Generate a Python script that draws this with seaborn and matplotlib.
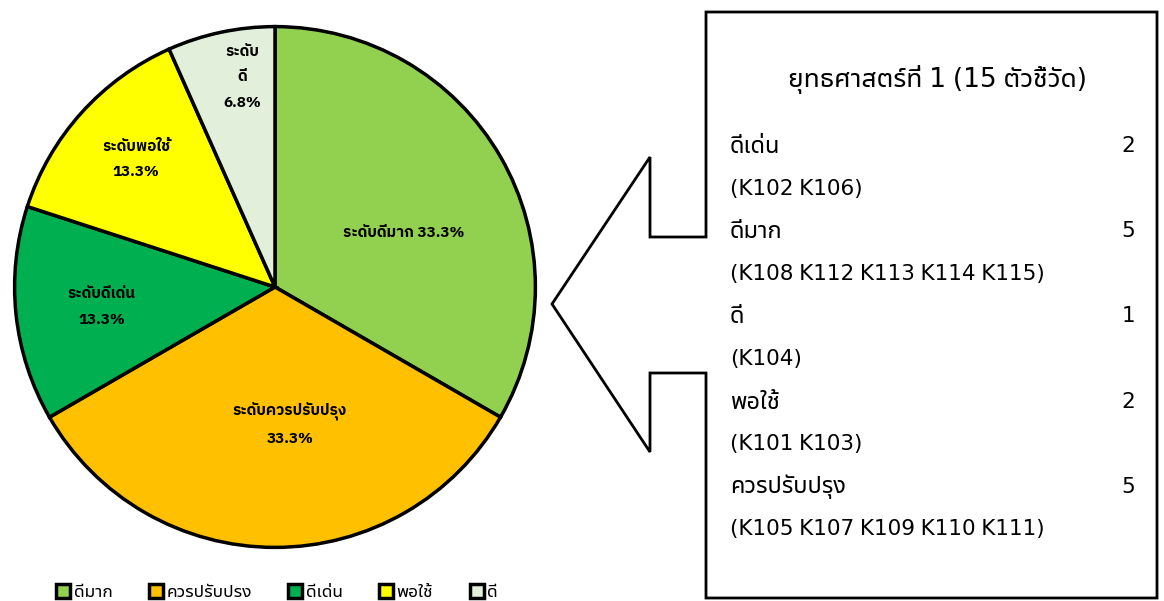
import matplotlib
matplotlib.use("Agg")
import matplotlib.pyplot as plt
from matplotlib import font_manager
from matplotlib.patches import Polygon
from matplotlib.lines import Line2D
import seaborn as sns

# ---- data ----
categories = ["ดีมาก", "ควรปรับปรง", "ดีเด่น", "พอใช้", "ดี"]
values = [5, 5, 2, 2, 1]
slice_labels = ["ระดับดีมาก 33.3%", "ระดับควรปรับปรุง\n33.3%", "ระดับดีเด่น\n13.3%",
                "ระดับพอใช้\n13.3%", "ระดับ\nดี\n6.8%"]
colors = ["#92D050", "#FFC000", "#00B050", "#FFFF00", "#E2EFDA"]

title_text = "ยุทธศาสตร์ที่ 1 (15 ตัวชี้วัด)"
box_levels = ["ดีเด่น", "ดีมาก", "ดี", "พอใช้", "ควรปรับปรุง"]
box_counts = [2, 5, 1, 2, 5]
box_codes = ["(K102 K106)", "(K108 K112 K113 K114 K115)", "(K104)", "(K101 K103)",
             "(K105 K107 K109 K110 K111)"]

sns.set_theme(style="white")

# pick a Thai family that has a bold face for the pie labels
bold_names = {f.name for f in font_manager.fontManager.ttflist
              if (f.weight if isinstance(f.weight, int) else 400) >= 600
              or str(f.weight) in ("bold", "semibold", "demibold", "heavy", "extra bold", "black")}
bold_family = "Noto Sans Thai UI"
for cand in ["Noto Sans Thai UI", "Noto Sans Thai", "IBM Plex Sans Thai", "Anuphan", "Sarabun", "Loma"]:
    if cand in bold_names:
        bold_family = cand
        break

plt.rcParams['font.family'] = ['Noto Sans Thai UI', 'DejaVu Sans']
plt.rcParams['text.color'] = 'black'

W, H = 1164, 601
fig = plt.figure(figsize=(W / 100, H / 100), dpi=100)


def fx(px):
    return px / W


def fy(py):
    return 1 - py / H


cx, cy, r = 275, 287, 263
ax = fig.add_axes([fx(cx - r), fy(cy + r), 2 * r / W, 2 * r / H])
wedges, _ = ax.pie(values, colors=colors, startangle=90, counterclock=False,
                   wedgeprops=dict(edgecolor="black", linewidth=2.5), radius=1)
ax.set_xlim(-1.01, 1.01)
ax.set_ylim(-1.01, 1.01)
ax.set_aspect("equal")

label_px = [(405, 232), (290, 425), (100, 307), (135, 158), (242, 75)]
for (px, py), txt in zip(label_px, slice_labels):
    ax.text((px - cx) / r, (cy - py) / r, txt, ha="center", va="center",
            fontsize=11, fontweight="bold", color="black", linespacing=2.05,
            family=[bold_family, "DejaVu Sans"])

handles = [Line2D([], [], marker="s", linestyle="none", markersize=10,
                  markerfacecolor=c, markeredgecolor="black", markeredgewidth=2.5)
           for c in colors]
fig.legend(handles, categories, loc="center", bbox_to_anchor=(fx(277), fy(592)),
           ncol=5, frameon=False, fontsize=12.5, handletextpad=0.2,
           columnspacing=2.1, handlelength=0.8)

poly_px = [(706, 12), (1157, 12), (1157, 598), (706, 598), (706, 373), (650, 373),
           (650, 452), (552, 304), (650, 157), (650, 237), (706, 237)]
fig.patches.append(Polygon([(fx(x), fy(y)) for x, y in poly_px], closed=True,
                           facecolor="white", edgecolor="black", linewidth=2,
                           transform=fig.transFigure, figure=fig))

fig.text(fx(938), fy(80), title_text, ha="center", va="center", fontsize=19)
y0, dy = 146, 42.6
for i, (lv, cnt, code) in enumerate(zip(box_levels, box_counts, box_codes)):
    yl = y0 + 2 * i * dy
    fig.text(fx(730), fy(yl), lv, ha="left", va="center", fontsize=17)
    fig.text(fx(1135), fy(yl), str(cnt), ha="right", va="center", fontsize=15.5)
    fig.text(fx(730), fy(yl + dy), code, ha="left", va="center", fontsize=15.5)

fig.savefig("out.png", dpi=100)
